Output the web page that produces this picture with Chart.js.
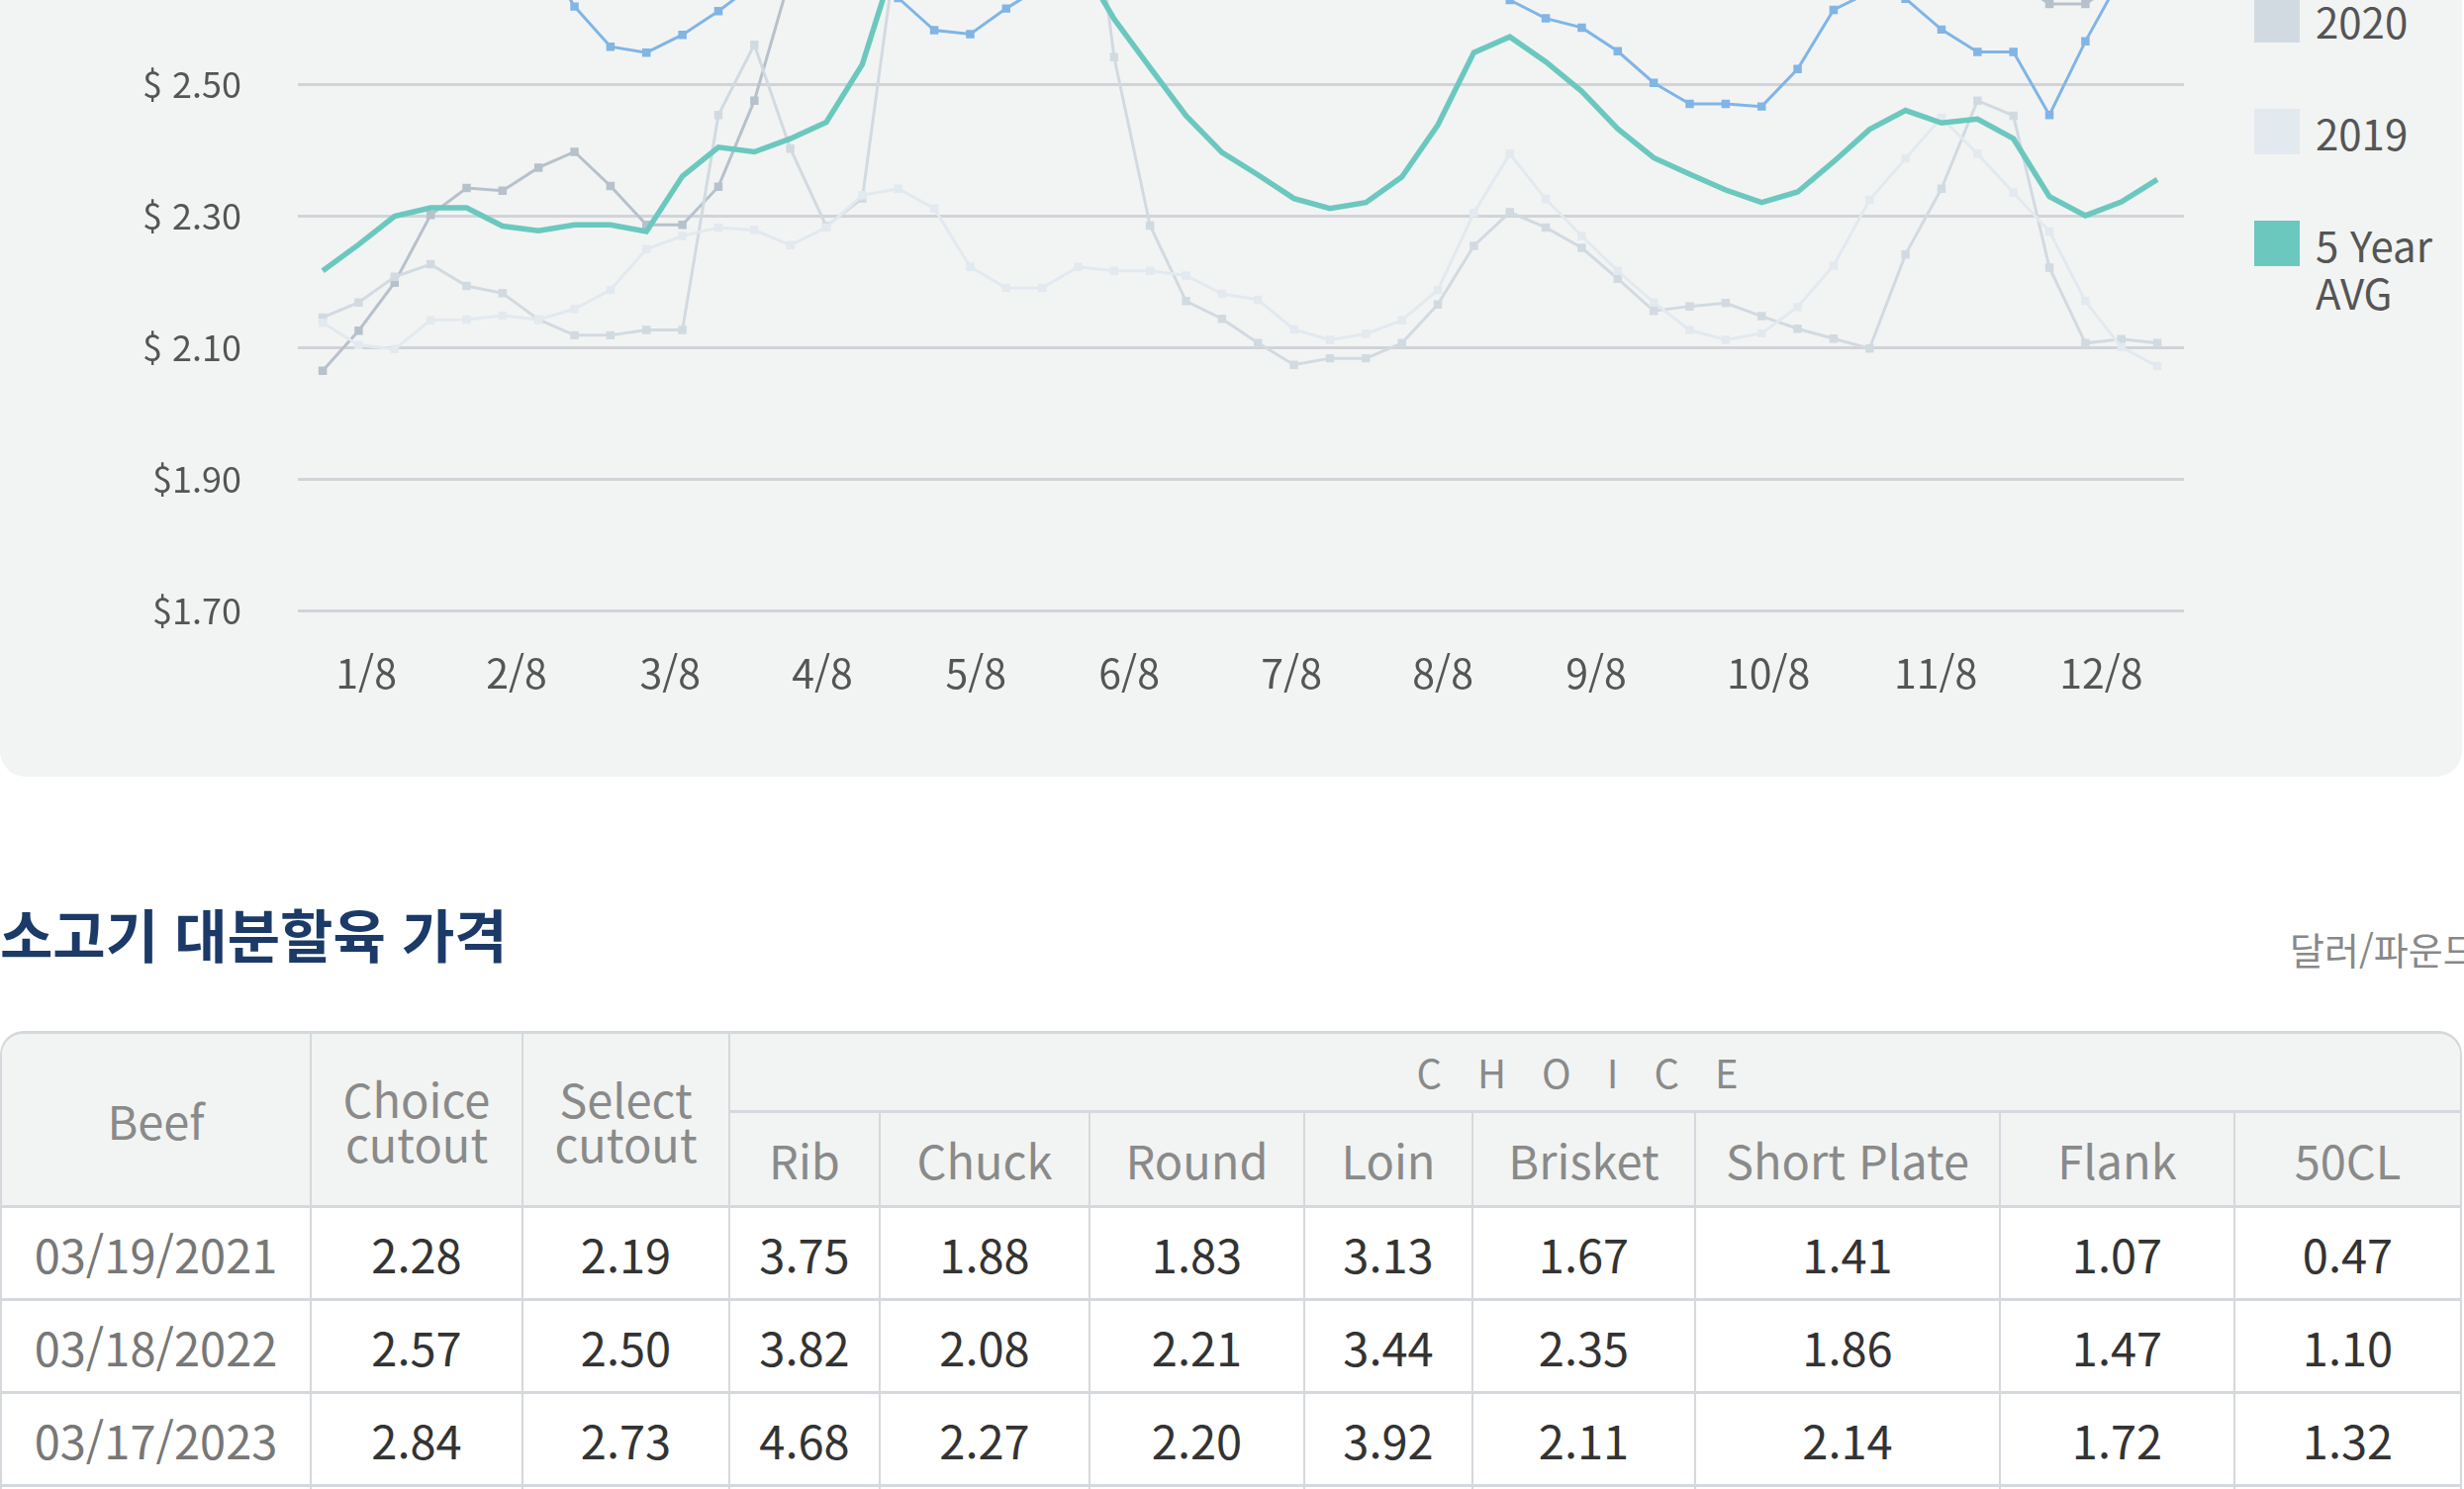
<!DOCTYPE html>
<html lang="ko">
<head>
<meta charset="utf-8">
<title>소고기 가격</title>
<script src="https://cdn.jsdelivr.net/npm/chart.js@4.4.1/dist/chart.umd.min.js"></script>
<style>
  html, body { margin: 0; padding: 0; }
  body {
    width: 2490px; height: 1505px; overflow: hidden; position: relative;
    background: #fff; font-family: "Noto Sans CJK KR", "Noto Sans", sans-serif;
  }
  #panel {
    position: absolute; left: 0; top: -500px; width: 2488px; height: 1285px;
    background: #f2f4f3; border-radius: 0 0 26px 26px;
  }
  #priceChart { position: absolute; left: 0; top: -403px; }
  #legend { position: absolute; left: 2278px; top: -228px; }
  .item { position: relative; height: 112.7px; }
  .sw { position: absolute; left: 0; top: 0; width: 46px; height: 46px; }
  .lb { position: absolute; left: 62px; top: 0; width: 130px; font-size: 42px; line-height: 48px; color: #555; }
  h2 {
    position: absolute; left: 0; top: 908px; margin: 0;
    font-size: 58px; line-height: 70px; font-weight: 700; color: #1b3a68; white-space: nowrap;
  }
  .unit { position: absolute; left: 2314px; top: 937px; font-size: 38px; line-height: 44px; color: #888; white-space: nowrap; }
  table {
    position: absolute; left: 0; top: 1042px; width: 2488px;
    border-collapse: separate; border-spacing: 0; table-layout: fixed;
    border-top: 3px solid #d5d8dc; border-left: 2px solid #d5d8dc; border-right: 2px solid #d5d8dc;
    border-radius: 24px 24px 0 0;
  }
  th, td { border-right: 2px solid #d5d8dc; border-bottom: 3px solid #d5d8dc; text-align: center; padding: 0; }
  th:last-child, td:last-child { border-right: none; }
  th { background: #f2f4f3; color: #8a8a8a; font-weight: 400; font-size: 47px; line-height: 45px; }
  td { background: #fff; color: #333; font-size: 47px; }
  td.date { color: #777; }
  th.choice { font-size: 40px; letter-spacing: 36px; border-top-right-radius: 22px; }
  th.first { border-top-left-radius: 22px; }
  tr.h1 { height: 80px; }
  tr.h2 { height: 96px; }
  tr.d { height: 94px; }
</style>
</head>
<body>
<div id="panel"></div>
<canvas id="priceChart" width="2230" height="1133"></canvas>
<div id="legend"></div>
<h2>소고기 대분할육 가격</h2>
<div class="unit">달러/파운드</div>
<table id="cutTable"></table>

<script>
// weekly values, $/lb (first point = first week of Jan)
var avg5Year = [2.217, 2.257, 2.300, 2.313, 2.313, 2.285, 2.278, 2.287, 2.287, 2.277,
  2.361, 2.405, 2.398, 2.418, 2.443, 2.531, 2.704, 2.80, 2.86, 2.86,
  2.78, 2.693, 2.60, 2.526, 2.453, 2.397, 2.363, 2.327, 2.312, 2.321,
  2.360, 2.439, 2.549, 2.573, 2.535, 2.490, 2.433, 2.389, 2.364, 2.340,
  2.321, 2.337, 2.383, 2.432, 2.461, 2.442, 2.448, 2.418, 2.330, 2.301,
  2.322, 2.356]
var y2022 = [2.78, 2.82, 2.83, 2.81, 2.78, 2.75, 2.709, 2.619, 2.558, 2.549,
  2.576, 2.612, 2.653, 2.67, 2.67, 2.65, 2.632, 2.583, 2.577, 2.616,
  2.650, 2.68, 2.70, 2.72, 2.72, 2.70, 2.68, 2.67, 2.66, 2.65,
  2.66, 2.67, 2.655, 2.629, 2.601, 2.587, 2.551, 2.503, 2.471, 2.471,
  2.467, 2.524, 2.614, 2.641, 2.631, 2.584, 2.550, 2.550, 2.454, 2.566,
  2.665, 2.70]
var y2021 = [2.065, 2.126, 2.199, 2.302, 2.343, 2.339, 2.374, 2.398, 2.346, 2.287,
  2.287, 2.345, 2.476, 2.665, 2.75, 2.85, 2.95, 3.05, 3.15, 3.25,
  3.30, 3.35, 3.35, 3.30, 3.10, 2.95, 2.85, 2.80, 2.80, 2.85,
  2.95, 3.05, 3.15, 3.20, 3.25, 3.25, 3.15, 3.00, 2.90, 2.85,
  2.82, 2.80, 2.82, 2.85, 2.80, 2.75, 2.70, 2.66, 2.623, 2.623,
  2.66, 2.72]
var y2020 = [2.146, 2.169, 2.208, 2.227, 2.194, 2.183, 2.143, 2.119, 2.119, 2.127,
  2.127, 2.454, 2.561, 2.403, 2.285, 2.327, 2.73, 3.25, 3.9, 4.5,
  4.6, 2.97, 2.542, 2.286, 2.171, 2.144, 2.107, 2.074, 2.084, 2.084,
  2.107, 2.166, 2.255, 2.306, 2.283, 2.252, 2.205, 2.156, 2.163, 2.168,
  2.148, 2.129, 2.114, 2.099, 2.242, 2.342, 2.476, 2.453, 2.222, 2.107,
  2.113, 2.107]
var y2019 = [2.138, 2.104, 2.098, 2.142, 2.143, 2.149, 2.143, 2.159, 2.188, 2.250,
  2.270, 2.283, 2.279, 2.256, 2.283, 2.332, 2.342, 2.312, 2.223, 2.191,
  2.191, 2.223, 2.217, 2.217, 2.210, 2.182, 2.173, 2.128, 2.112, 2.121,
  2.142, 2.188, 2.305, 2.395, 2.326, 2.270, 2.217, 2.169, 2.127, 2.112,
  2.122, 2.162, 2.225, 2.325, 2.388, 2.450, 2.395, 2.336, 2.277, 2.171,
  2.101, 2.072]

var xTickLabels = ['1/8', '2/8', '3/8', '4/8', '5/8', '6/8', '7/8', '8/8', '9/8', '10/8', '11/8', '12/8']
var xTickAt = [1.21, 5.39, 9.66, 13.89, 18.16, 22.42, 26.93, 31.14, 35.40, 40.19, 44.84, 49.44]
var yTicks = [1.7, 1.9, 2.1, 2.3, 2.5, 2.7, 2.9]
var yTickLabels = ['$1.70', '$1.90', '$ 2.10', '$ 2.30', '$ 2.50', '$ 2.70', '$ 2.90']

// table
var cutHead = ['Beef', 'Choice cutout', 'Select cutout']
var choiceCuts = ['Rib', 'Chuck', 'Round', 'Loin', 'Brisket', 'Short Plate', 'Flank', '50CL']
var tableDates = ['03/19/2021', '03/18/2022', '03/17/2023']
var tableRows = [
  [2.28, 2.19, 3.75, 1.88, 1.83, 3.13, 1.67, 1.41, 1.07, 0.47],
  [2.57, 2.50, 3.82, 2.08, 2.21, 3.44, 2.35, 1.86, 1.47, 1.10],
  [2.84, 2.73, 4.68, 2.27, 2.20, 3.92, 2.11, 2.14, 1.72, 1.32]
]
var colWidths = [313, 214, 209, 152, 212, 217, 170, 225, 308, 237, 227]

var FONT = '"Noto Sans CJK KR", "Noto Sans", sans-serif'

var series = [
  { name: '2022', values: y2022, color: '#80b5e6', width: 3, dots: true },
  { name: '2021', values: y2021, color: '#b7c1cb', width: 3, dots: true },
  { name: '2020', values: y2020, color: '#d2dae1', width: 3, dots: true },
  { name: '2019', values: y2019, color: '#e2e9ef', width: 3, dots: true },
  { name: '5 Year AVG', values: avg5Year, color: '#6bc8bf', width: 5.5, dots: false }
]

var datasets = series.map(function (s, k) {
  return {
    label: s.name,
    data: s.values.map(function (v, i) { return { x: i, y: v } }),
    borderColor: s.color,
    backgroundColor: s.color,
    borderWidth: s.width,
    pointStyle: 'rect',
    pointRadius: s.dots ? 6 : 0,
    pointBorderWidth: 0,
    tension: 0,
    fill: false,
    order: s.dots ? series.length - k : 0
  }
})

// y tick padding (57) is also added above the top tick, so keep top padding > 24 + 57
new Chart(document.getElementById('priceChart'), {
  type: 'line',
  data: { datasets: datasets },
  options: {
    responsive: false,
    animation: false,
    devicePixelRatio: 1,
    layout: { padding: { top: 90, right: 23, bottom: 0, left: 0 } },
    plugins: { legend: { display: false }, tooltip: { enabled: false } },
    scales: {
      x: {
        type: 'linear', min: -0.69, max: 51.74,
        grid: { display: false }, border: { display: false },
        afterBuildTicks: function (s) { s.ticks = xTickAt.map(function (v) { return { value: v } }) },
        afterFit: function (s) { s.height = 112.7 },
        ticks: {
          padding: 31, color: '#555', maxRotation: 0, autoSkip: false,
          font: { family: FONT, size: 41 },
          callback: function (v, i) { return xTickLabels[i] }
        }
      },
      y: {
        min: 1.7, max: 3.1,
        afterBuildTicks: function (s) { s.ticks = yTicks.map(function (v) { return { value: v } }) },
        afterFit: function (s) { s.width = 301 },
        grid: { color: '#d1d3d8', lineWidth: 3, drawTicks: false },
        border: { display: false },
        ticks: {
          padding: 57, color: '#555',
          font: { family: FONT, size: 36 },
          callback: function (v, i) { return yTickLabels[i] }
        }
      }
    }
  }
})

// legend on the right
var legend = document.getElementById('legend')
series.forEach(function (s) {
  var item = document.createElement('div')
  item.className = 'item'
  item.innerHTML = '<div class="sw" style="background:' + s.color + '"></div><div class="lb">' + s.name + '</div>'
  legend.appendChild(item)
})

// table
var html = '<colgroup>' + colWidths.map(function (w) { return '<col style="width:' + w + 'px">' }).join('') + '</colgroup>'
html += '<tr class="h1">'
cutHead.forEach(function (h, i) {
  html += '<th rowspan="2"' + (i === 0 ? ' class="first"' : '') + '>' + h + '</th>'
})
html += '<th class="choice" colspan="' + choiceCuts.length + '">CHOICE</th></tr>'
html += '<tr class="h2">' + choiceCuts.map(function (c) { return '<th>' + c + '</th>' }).join('') + '</tr>'
tableRows.forEach(function (row, r) {
  html += '<tr class="d"><td class="date">' + tableDates[r] + '</td>'
  html += row.map(function (v) { return '<td>' + v.toFixed(2) + '</td>' }).join('') + '</tr>'
})
html += '<tr class="d">' + colWidths.map(function () { return '<td></td>' }).join('') + '</tr>'
document.getElementById('cutTable').innerHTML = html
</script>
</body>
</html>
